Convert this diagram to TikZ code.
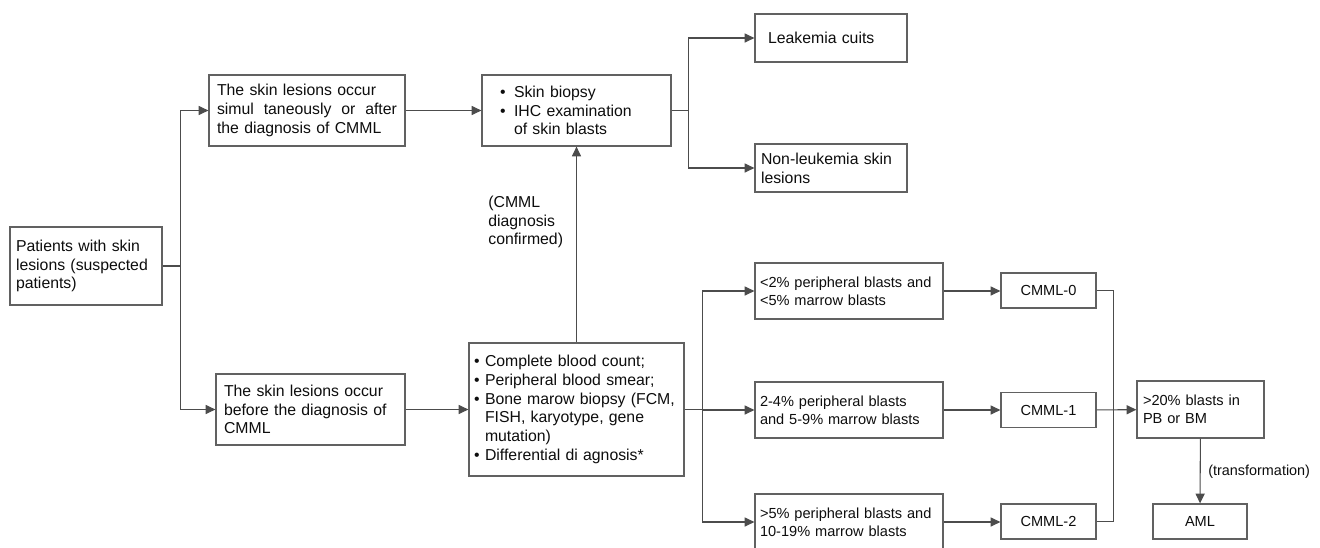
\documentclass[tikz,border=0pt]{standalone}
\usepackage{fontspec}
\setmainfont{Liberation Sans}
\usepackage{tikz}
\usetikzlibrary{arrows.meta}
\newcommand{\blt}{\makebox[0.28cm][l]{\textbullet}}
\newcommand{\sblt}{\makebox[0.22cm][l]{\textbullet}}

\begin{document}
\begin{tikzpicture}[x=0.02cm,y=-0.02cm,>={Triangle[length=5.6pt,width=5.2pt]},
  bx/.style={draw=black!62,line width=0.7pt,align=left,text=black!95,inner ysep=0pt,font=\fontsize{9}{10.7}\selectfont},
  sbx/.style={bx,font=\fontsize{8.3}{10.4}\selectfont},
  cbx/.style={sbx,align=center,minimum width=1.9cm,minimum height=0.7cm},
  ln/.style={draw=black!70,line width=0.6pt},
  arr/.style={ln,->},
  lab/.style={text=black!95,inner sep=0pt,align=left,anchor=west}]
\useasboundingbox (0,0) rectangle (1320,548);

\node[bx,text width=2.8cm,inner xsep=0.12cm,minimum height=1.56cm] (pat) at (86,266)
 {Patients with skin\\ lesions (suspected\\ patients)};
\node[bx,text width=3.6cm,inner xsep=0.16cm,minimum height=1.42cm] (simul) at (307,110.5)
 {The skin lesions occur\\ \makebox[3.6cm][l]{simul\hfill taneously\hfill or\hfill after}\\ the diagnosis of CMML};
\node[bx,text width=3.46cm,inner xsep=0.16cm,minimum height=1.42cm] (before) at (310.5,409.5)
 {The skin lesions occur\\ before the diagnosis of\\ CMML};
\node[bx,text width=3.06cm,inner xsep=0.36cm,minimum height=1.42cm] (skin) at (576.5,110.5)
 {\blt Skin biopsy\\ \blt IHC examination\\ \hspace*{0.28cm}of skin blasts};
\node[bx,text width=2.52cm,inner xsep=0.26cm,minimum height=0.96cm] (leuk) at (831,38) {Leakemia cuits};
\node[bx,text width=2.8cm,inner xsep=0.12cm,minimum height=0.96cm] (nonleuk) at (831,168)
 {Non-leukemia skin\\ lesions};
\node[bx,text width=4.1cm,inner xsep=0.1cm,minimum height=2.66cm] (cbc) at (576.5,409.5)
 {\sblt Complete blood count;\\ \sblt Peripheral blood smear;\\ \sblt \mbox{Bone marow biopsy (FCM,}\\
  \hspace*{0.22cm}FISH, karyotype, gene\\ \hspace*{0.22cm}mutation)\\ \sblt Differential di agnosis*};
\node[lab,font=\fontsize{9}{10.7}\selectfont] (conf) at (488,222) {(CMML\\ diagnosis\\ confirmed)};

\node[sbx,text width=3.56cm,inner xsep=0.1cm,minimum height=1.12cm] (b0) at (849,291)
 {\mbox{<2\% peripheral blasts and}\\ <5\% marrow blasts};
\node[sbx,text width=3.56cm,inner xsep=0.1cm,minimum height=1.12cm] (b1) at (849,410)
 {2-4\% peripheral blasts\\ and 5-9\% marrow blasts};
\node[sbx,text width=3.56cm,inner xsep=0.1cm,minimum height=1.12cm] (b2) at (849,522)
 {\mbox{>5\% peripheral blasts and}\\ 10-19\% marrow blasts};
\node[cbx] (c0) at (1048.5,290.5) {CMML-0};
\node[cbx] (c1) at (1048.5,410) {CMML-1};
\node[cbx] (c2) at (1048.5,521.5) {CMML-2};
\node[sbx,text width=2.3cm,inner xsep=0.12cm,minimum height=1.14cm] (trans) at (1200.5,409.5)
 {>20\% blasts in\\ PB or BM};
\node[cbx,minimum width=1.88cm] (aml) at (1200,521.5) {AML};
\node[lab,font=\fontsize{8.2}{10}\selectfont] (tlab) at (1208,472) {(transformation)};

\draw[arr] (pat.east) -- ++(18,0) |- (simul.west);
\draw[arr] (pat.east) -- ++(18,0) |- (before.west);
\draw[arr] (simul) -- (skin);
\draw[arr] (before) -- (cbc);
\draw[arr] (cbc) -- (skin);
\draw[arr] (skin.east) -- ++(17,0) |- (leuk.west);
\draw[arr] (skin.east) -- ++(17,0) |- (nonleuk.west);
\foreach \i in {0,1,2} {
  \draw[arr] (cbc.east) -- ++(18,0) |- (b\i.west);
  \draw[arr] (b\i.east) -- (b\i.east -| c\i.west);
}
\draw[ln] (c0.east) -- ++(17,0) |- (c2.east);
\draw[arr] (c1) -- (trans);
\draw[arr] (trans) -- (aml);
\end{tikzpicture}
\end{document}
